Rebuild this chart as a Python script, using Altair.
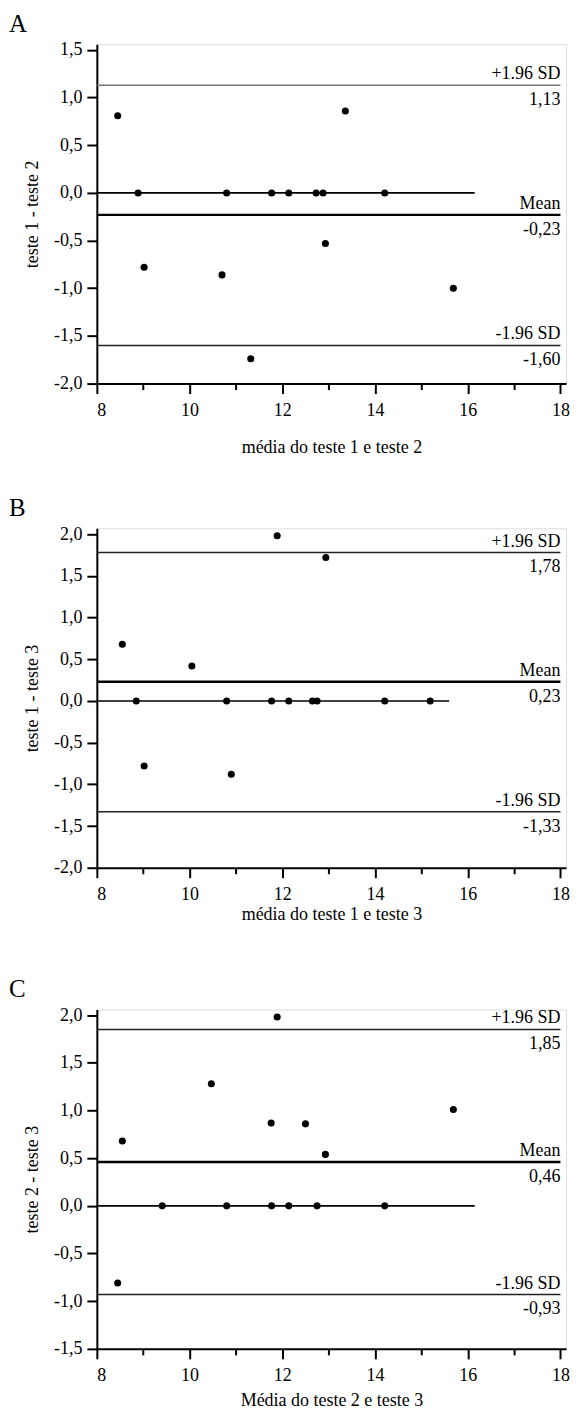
import altair as alt
import pandas as pd

FONT = "Liberation Serif, Times New Roman, Times, serif"

# ---------------- data ----------------
line_names = ["+1.96 SD", "Mean", "-1.96 SD"]

# Panel A: teste 1 - teste 2
a_x = [8.45, 8.89, 9.02, 10.70, 10.80, 11.32, 11.77, 12.14, 12.73, 12.88, 12.93, 13.36, 14.21, 15.69]
a_y = [0.81, 0.0, -0.78, -0.86, 0.0, -1.74, 0.0, 0.0, 0.0, 0.0, -0.53, 0.86, 0.0, -1.00]
a_lines = [1.13, -0.23, -1.60]
a_zero_end = 16.15

# Panel B: teste 1 - teste 3
b_x = [8.55, 8.85, 9.02, 10.05, 10.80, 10.90, 11.77, 11.89, 12.14, 12.65, 12.75, 12.94, 14.21, 15.19]
b_y = [0.68, 0.0, -0.78, 0.42, 0.0, -0.88, 0.0, 1.98, 0.0, 0.0, 0.0, 1.72, 0.0, 0.0]
b_lines = [1.78, 0.23, -1.33]
b_zero_end = 15.60

# Panel C: teste 2 - teste 3
c_x = [8.45, 8.55, 9.41, 10.47, 10.80, 11.76, 11.77, 11.89, 12.14, 12.50, 12.75, 12.93, 14.21, 15.69]
c_y = [-0.81, 0.68, 0.0, 1.28, 0.0, 0.87, 0.0, 1.98, 0.0, 0.86, 0.0, 0.54, 0.0, 1.01]
c_lines = [1.85, 0.46, -0.93]
c_zero_end = 16.15

x_ticks = list(range(8, 19))
x_min, x_max = 8, 18

W, H = 470, 340
FS = 18


def fmt_comma(v):
    return f"{v:.2f}".replace(".", ",")


def panel(letter, xs, ys, lines, zero_end, xtitle, ytitle, ydomain, yticks, upper_color, xtitle_pad):
    pts = pd.DataFrame({"x": xs, "y": ys})
    ref = pd.DataFrame({
        "name": line_names,
        "y": lines,
        "x1": [x_min] * 3,
        "x2": [x_max] * 3,
        "val": [fmt_comma(v) for v in lines],
    })
    zero = pd.DataFrame({"x1": [x_min], "x2": [zero_end], "y": [0.0]})
    lab = pd.DataFrame({"letter": [letter]})

    xs_ = alt.Scale(domain=[8, 18.12], nice=False, zero=False)
    ys_ = alt.Scale(domain=ydomain, nice=False, zero=False)

    x_axis = alt.Axis(
        values=x_ticks,
        labelExpr="datum.value % 2 == 0 ? datum.label : ''",
        tickSize={"condition": {"test": "datum.value % 2 == 1", "value": 6}, "value": 10},
        tickWidth=2, domainWidth=2, domainColor="black", tickColor="black",
        labelFont=FONT, labelFontSize=FS, labelColor="black", labelPadding=8,
        title=xtitle, titleFont=FONT, titleFontSize=FS, titleFontWeight="normal",
        titleColor="black", titlePadding=xtitle_pad, grid=False,
    )
    y_axis = alt.Axis(
        values=yticks,
        labelExpr="(datum.value < 0 ? '-' : '') + replace(format(abs(datum.value), '.1f'), '.', ',')",
        tickSize=10, tickWidth=2, domainWidth=2, domainColor="black", tickColor="black",
        labelFont=FONT, labelFontSize=FS, labelColor="black", labelPadding=5,
        title=ytitle, titleFont=FONT, titleFontSize=FS, titleFontWeight="normal",
        titleColor="black", titlePadding=12, grid=False,
    )

    base_ref = alt.Chart(ref)
    sd_lines = base_ref.transform_filter("datum.name != 'Mean'").mark_rule(
        strokeWidth=1.5
    ).encode(
        x=alt.X("x1:Q", scale=xs_, axis=x_axis),
        x2="x2:Q",
        y=alt.Y("y:Q", scale=ys_, axis=y_axis),
        color=alt.condition("datum.name == '+1.96 SD'", alt.value(upper_color), alt.value("#222222")),
    )
    mean_line = base_ref.transform_filter("datum.name == 'Mean'").mark_rule(
        strokeWidth=2.4, color="black"
    ).encode(x="x1:Q", x2="x2:Q", y="y:Q")

    zero_line = alt.Chart(zero).mark_rule(strokeWidth=1.6, color="black").encode(
        x="x1:Q", x2="x2:Q", y="y:Q"
    )

    names = base_ref.mark_text(
        align="right", baseline="alphabetic", dy=-6, font=FONT, fontSize=FS, color="black"
    ).encode(x="x2:Q", y="y:Q", text="name:N")
    vals = base_ref.mark_text(
        align="right", baseline="top", dy=6, font=FONT, fontSize=FS, color="black"
    ).encode(x="x2:Q", y="y:Q", text="val:N")

    points = alt.Chart(pts).mark_circle(size=50, color="black", opacity=1).encode(
        x="x:Q", y="y:Q"
    )

    # panel letter (A / B / C) in the top-left corner, outside the plot area
    letter_mark = alt.Chart(lab).mark_text(
        align="left", baseline="top", font=FONT, fontSize=25, color="black"
    ).encode(x=alt.value(-88), y=alt.value(-32), text="letter:N")

    return alt.layer(sd_lines, mean_line, zero_line, names, vals, points, letter_mark).properties(
        width=W, height=H,
    )


pa = panel("A", a_x, a_y, a_lines, a_zero_end, "média do teste 1 e teste 2", "teste 1 - teste 2",
           [-2.0, 1.56], [-2.0, -1.5, -1.0, -0.5, 0.0, 0.5, 1.0, 1.5], "#777777", 19)
pb = panel("B", b_x, b_y, b_lines, b_zero_end, "média do teste 1 e teste 3", "teste 1 - teste 3",
           [-2.0, 2.07], [-2.0, -1.5, -1.0, -0.5, 0.0, 0.5, 1.0, 1.5, 2.0], "#222222", 2)
pc = panel("C", c_x, c_y, c_lines, c_zero_end, "Média do teste 2 e teste 3", "teste 2 - teste 3",
           [-1.5, 2.06], [-1.5, -1.0, -0.5, 0.0, 0.5, 1.0, 1.5, 2.0], "#222222", 7)

top_two = alt.vconcat(pa, pb, spacing=38)
chart = alt.vconcat(top_two, pc, spacing=52).properties(
    padding={"left": 0, "top": 2, "right": 0, "bottom": 0}
).configure_view(stroke=None).configure(background="white")

chart.save("out.html", embed_options={"renderer": "svg", "actions": False})
